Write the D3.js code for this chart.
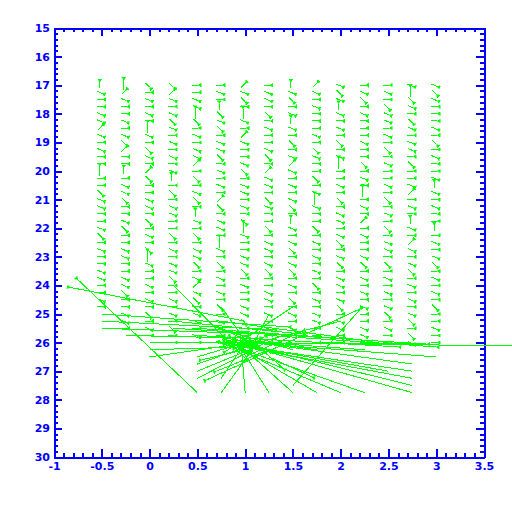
<!DOCTYPE html>
<html>
<head>
<meta charset="utf-8">
<script src="https://cdn.jsdelivr.net/npm/d3@7"></script>
<style>
  body { margin: 0; background: #fff; }
</style>
</head>
<body>
<script>
// grid of the vector field
const colX = [-0.5, -0.25, 0, 0.25, 0.5, 0.75, 1, 1.25, 1.5, 1.75, 2, 2.25, 2.5, 2.75, 3];
const rowY = [17, 17.25, 17.5, 17.75, 18, 18.25, 18.5, 18.75, 19, 19.25, 19.5, 19.75,
              20, 20.25, 20.5, 20.75, 21, 21.25, 21.5, 21.75, 22, 22.25, 22.5, 22.75,
              23, 23.25, 23.5, 23.75, 24, 24.25, 24.5, 24.75, 25, 25.25, 25.5, 25.75, 26];

// direction of each small vector, one string per column (top to bottom)
// a..p = 16 directions (a = right, e = down, i = left, m = up), upper case = longer, "." = none
const dirCols = [
  "mbaab bobab aaMaa cbbaa bcaba abbaa ba... ..",
  "Mobaa babco aamab bcaab caabb aabbc aabba ..",
  "cabab aMbac baoca abbac abacM baaba bacab a.",
  "cobab cbaba babma cabba acaba bbcaa babac aa",
  "aabbM cabab boaca bcamb acabb cabob cabba ba",
  "abamc bcabb cabab aocab baMba cabab acabb ab",
  "obcaM baoba abcab babac Mbaab bcaba abbca ab",
  "abbac abaab caobb acbaa cabba bcaab babab aa",
  "mbcab mbaca bobab abcam babca bcaba cabab ab",
  "obaba aabac baaca bMbaa cabab abaca babba aa",
  "bcbmb abaca bMaab acabb abcab cabba bcabb aa",
  "abcab aaaba acaba Mabao abaab cabab abaab ba",
  "abacb babac abaab acaba cabba cabab abcab aa",
  "bMcba cbabb acaab oabam baoba bcaba babca cb",
  "bcbaa abaca baabm babaa mabab cabab acaab aa"
];

// large vectors around the disturbed region: start point and end point
const longX0 = [-0.5, -0.5, -0.5, -0.25, 0, 0, 0, 0.5, 0.5, 0.5, 1, 0.25,
                0.75, 1, 1.25, 1.5, 1.75, 2, 2.25, 2.75, 2.75, 2.75, 2.75, 2.75, 2.5, 3, 1,
                0.5, 0.5, 0.75, 2.25, 1.5, 1.5, 2, 1.25, 0.75,
                0.25, 0.5, 0.75, 0.25, 0.5, 1.25, 0.75,
                1, 1.25, 1, 1.5, 1.25, 1.5, 1.75, 2, 2.25, 1, 0.75];
const longY0 = [25, 25.25, 25.5, 25.75, 26, 26.25, 26.5, 26.75, 27.25, 27.75, 25.25, 24,
                27.75, 27.75, 27.75, 27.75, 27.75, 27.75, 27.75, 27.75, 27.5, 27.25, 27, 26.75, 27, 26.5, 26,
                26.5, 27, 27.25, 24.75, 27.5, 24.75, 25.25, 25, 24.75,
                25.5, 25.75, 25.25, 25.25, 25.5, 25.75, 26,
                26.25, 26.25, 26.5, 26.25, 26.5, 26.5, 26.25, 26, 26.25, 25.75, 25.5];
const longX1 = [1.45, 1.3, 1.2, 1.1, 1.35, 1, 0.95, 1.1, 1.05, -0.75, -0.83, 1,
                1.15, 0.95, 0.9, 0.85, 0.8, 0.75, 0.85, 0.9, 0.8, 0.9, 0.75, 0.8, 0.9, 0.8, 3.9,
                1.2, 1.3, 1, 0.6, 2.2, 0.8, 0.9, 1, 1.1,
                2.9, 2.6, 2.3, 1.6, 2, 3, 2.75,
                0.55, 0.7, 1.6, 0.8, 1.7, 0.9, 1, 0.95, 1, 1.4, 1.25];
const longY1 = [25.45, 25.55, 25.7, 25.85, 26, 26.15, 26.05, 26.05, 26.3, 23.8, 24.07, 26.55,
                25.9, 25.7, 25.9, 25.8, 25.9, 26, 26.1, 26, 25.9, 26.1, 26, 25.85, 26.05, 25.95, 26.12,
                25.8, 25.9, 26, 27.3, 24.85, 26.3, 26.2, 26.6, 26.4,
                26.05, 26.15, 25.95, 25.7, 25.85, 26.15, 26.05,
                26.6, 27, 25.6, 25.6, 27.2, 25.9, 25.9, 26.05, 25.95, 26.9, 26.3];

const xTicks = [-1, -0.5, 0, 0.5, 1, 1.5, 2, 2.5, 3, 3.5];
const xTickLabels = ["-1", "-0.5", "0", "0.5", "1", "1.5", "2", "2.5", "3", "3.5"];
const yTicks = [15, 16, 17, 18, 19, 20, 21, 22, 23, 24, 25, 26, 27, 28, 29, 30];
const yTickLabels = yTicks.map(String);

const width = 512, height = 512;
const margin = { top: 28, right: 28, bottom: 55, left: 54 };

const svg = d3.select("body").append("svg")
  .attr("width", width)
  .attr("height", height);

const xScale = d3.scaleLinear().domain([-1, 3.5]).range([margin.left, width - margin.right]);
const yScale = d3.scaleLinear().domain([15, 30]).range([margin.top, height - margin.bottom]);

const blue = "#0000ff";
const green = "#00ff00";

// axes: major ticks, minor ticks, all pointing inwards
const xMinor = d3.range(-1, 3.5001, 0.1).map(v => +v.toFixed(2));
const yMinor = d3.range(15, 30.001, 0.2).map(v => +v.toFixed(2));
const plotBottom = height - margin.bottom, plotRight = width - margin.right;

function drawAxis(axis, transform) {
  const g = svg.append("g").attr("transform", transform).call(axis);
  g.selectAll("path, line").attr("stroke", blue).attr("stroke-width", 2)
    .attr("shape-rendering", "crispEdges");
  g.selectAll("text").attr("fill", blue)
    .style("font-family", "DejaVu Sans").style("font-weight", "bold").style("font-size", "11px");
  return g;
}

drawAxis(d3.axisBottom(xScale).tickValues(xTicks).tickSize(-8).tickSizeOuter(0)
  .tickPadding(5).tickFormat((d, i) => xTickLabels[i]), `translate(0,${plotBottom})`);
drawAxis(d3.axisBottom(xScale).tickValues(xMinor).tickSize(-4).tickSizeOuter(0)
  .tickFormat(""), `translate(0,${plotBottom})`);
drawAxis(d3.axisBottom(xScale).tickValues(xTicks).tickSize(8).tickSizeOuter(0)
  .tickFormat(""), `translate(0,${margin.top})`);
drawAxis(d3.axisBottom(xScale).tickValues(xMinor).tickSize(4).tickSizeOuter(0)
  .tickFormat(""), `translate(0,${margin.top})`);

drawAxis(d3.axisLeft(yScale).tickValues(yTicks).tickSize(-8).tickSizeOuter(0)
  .tickPadding(4).tickFormat((d, i) => yTickLabels[i]), `translate(${margin.left},0)`);
drawAxis(d3.axisLeft(yScale).tickValues(yMinor).tickSize(-4).tickSizeOuter(0)
  .tickFormat(""), `translate(${margin.left},0)`);
drawAxis(d3.axisRight(yScale).tickValues(yTicks).tickSize(-8).tickSizeOuter(0)
  .tickFormat(""), `translate(${plotRight},0)`);
drawAxis(d3.axisRight(yScale).tickValues(yMinor).tickSize(-4).tickSizeOuter(0)
  .tickFormat(""), `translate(${plotRight},0)`);

// arrow: shaft from (x0,y0) to (x1,y1) ending in a small filled wedge
const forkLen = 3.5, forkAng = 32 * Math.PI / 180;
function shaftPath(x0, y0, x1, y1) {
  return `M${x0},${y0}L${x1},${y1}`;
}
function wedgePath(x0, y0, x1, y1) {
  const th = Math.atan2(y1 - y0, x1 - x0);
  const a = [x1 + forkLen * Math.cos(th + forkAng), y1 + forkLen * Math.sin(th + forkAng)];
  const b = [x1 + forkLen * Math.cos(th - forkAng), y1 + forkLen * Math.sin(th - forkAng)];
  return `M${x1},${y1}L${a[0]},${a[1]}L${b[0]},${b[1]}Z`;
}

const codes = "abcdefghijklmnop";
const smallVectors = [];
dirCols.forEach((s, ci) => {
  s.replace(/ /g, "").split("").forEach((c, ri) => {
    if (c === "." || ri >= rowY.length) return;
    const th = codes.indexOf(c.toLowerCase()) * 22.5 * Math.PI / 180;
    const len = c === c.toUpperCase() ? 10 : 6;
    const dx = len * Math.cos(th), dy = len * Math.sin(th);
    // centred on the grid point
    const x0 = xScale(colX[ci]) - dx / 2 - 2, y0 = yScale(rowY[ri]) - dy / 2;
    smallVectors.push({ x0, y0, x1: x0 + dx, y1: y0 + dy });
  });
});

const longVectors = longX0.map((x, i) => ({
  x0: xScale(x), y0: yScale(longY0[i]), x1: xScale(longX1[i]), y1: yScale(longY1[i])
}));

const allVectors = smallVectors.concat(longVectors);

const field = svg.append("g").attr("shape-rendering", "crispEdges");

field.selectAll("path.shaft")
  .data(allVectors)
  .enter().append("path")
  .attr("class", "shaft")
  .attr("fill", "none")
  .attr("stroke", green)
  .attr("stroke-width", 1)
  .attr("d", d => shaftPath(d.x0, d.y0, d.x1, d.y1));

field.selectAll("path.wedge")
  .data(allVectors)
  .enter().append("path")
  .attr("class", "wedge")
  .attr("fill", green)
  .attr("stroke", green)
  .attr("stroke-width", 0.5)
  .attr("d", d => wedgePath(d.x0, d.y0, d.x1, d.y1));
</script>
</body>
</html>
